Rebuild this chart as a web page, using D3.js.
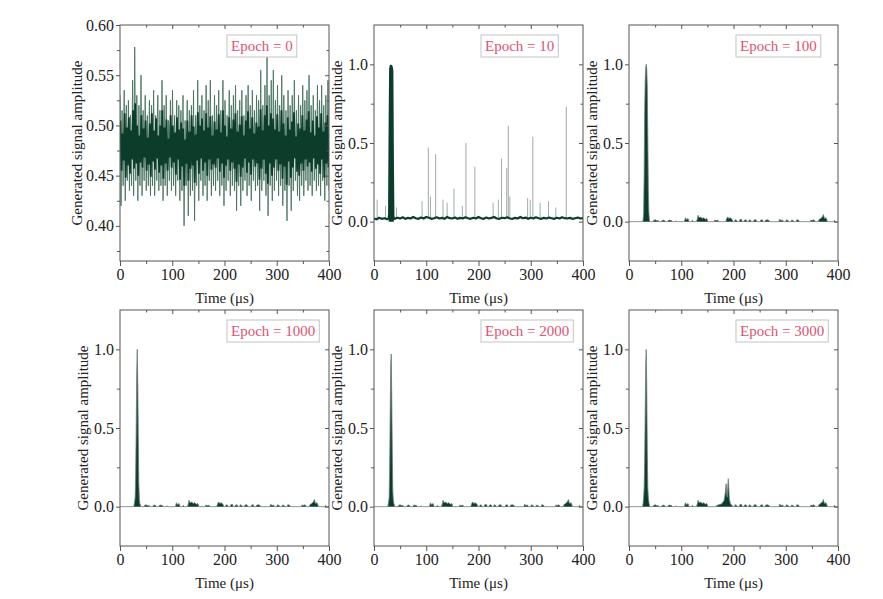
<!DOCTYPE html>
<html><head><meta charset="utf-8">
<script src="https://cdn.jsdelivr.net/npm/d3@7"></script>
<style>body{margin:0;background:#fff}</style>
</head><body>
<svg id="c" width="883" height="599"></svg>
<script>
// ---------------- DATA ----------------
const epochs = [0, 10, 100, 1000, 2000, 3000];
const timeTicks = [0, 100, 200, 300, 400];
const timeMinor = [50, 150, 250, 350];
const ampTicksEpoch0 = [0.40, 0.45, 0.50, 0.55, 0.60];
const ampMinorEpoch0 = [0.375, 0.425, 0.475, 0.525, 0.575];
const ampTicks = [0.0, 0.5, 1.0];
const ampMinor = [-0.25, 0.25, 0.75, 1.25];

// Epoch 0: outer excursions (light spikes) of the noisy trace
const epoch0Upper = [
0.53,0.515,0.535,0.52,0.525, 0.51,0.545,0.578,0.53,0.52,
0.55,0.515,0.53,0.51,0.525, 0.52,0.535,0.51,0.53,0.515,
0.545,0.52,0.53,0.505,0.525, 0.535,0.51,0.525,0.52,0.515,
0.53,0.505,0.525,0.515,0.52, 0.535,0.51,0.545,0.52,0.53,
0.515,0.54,0.525,0.545,0.51, 0.53,0.52,0.535,0.515,0.545,
0.525,0.51,0.535,0.52,0.53, 0.54,0.515,0.525,0.535,0.51,
0.53,0.54,0.52,0.535,0.515, 0.53,0.525,0.555,0.52,0.54,
0.568,0.53,0.545,0.555,0.525, 0.54,0.52,0.55,0.53,0.515,
0.535,0.52,0.53,0.545,0.515, 0.53,0.52,0.54,0.525,0.535,
0.55,0.52,0.53,0.515,0.54, 0.525,0.54,0.52,0.53,0.545];
const epoch0Lower = [
0.42,0.44,0.425,0.445,0.435, 0.44,0.43,0.445,0.425,0.44,
0.43,0.445,0.435,0.44,0.43, 0.44,0.43,0.445,0.435,0.44,
0.425,0.44,0.43,0.445,0.435, 0.44,0.43,0.445,0.425,0.435,
0.40,0.44,0.41,0.43,0.435, 0.405,0.44,0.425,0.445,0.43,
0.44,0.425,0.445,0.43,0.44, 0.435,0.445,0.43,0.44,0.42,
0.435,0.445,0.43,0.44,0.435, 0.415,0.44,0.42,0.435,0.445,
0.43,0.44,0.425,0.445,0.435, 0.44,0.415,0.435,0.445,0.43,
0.41,0.44,0.425,0.435,0.445, 0.43,0.44,0.42,0.435,0.405,
0.44,0.415,0.435,0.445,0.43, 0.425,0.44,0.43,0.445,0.435,
0.44,0.43,0.445,0.435,0.44, 0.43,0.445,0.425,0.44,0.435];
// Epoch 0: dense dark core of the trace
const epoch0CoreUpper = [
0.505,0.492,0.512,0.498,0.508,0.495,0.515,0.522,0.5,0.49,
0.51,0.497,0.505,0.488,0.502,0.512,0.495,0.507,0.49,0.5,
0.515,0.498,0.506,0.487,0.51,0.5,0.493,0.508,0.496,0.503,
0.497,0.486,0.505,0.494,0.51,0.499,0.491,0.513,0.5,0.507,
0.495,0.512,0.498,0.509,0.49,0.504,0.496,0.511,0.493,0.515,
0.5,0.489,0.508,0.497,0.506,0.512,0.494,0.501,0.509,0.49,
0.505,0.514,0.497,0.508,0.492,0.503,0.499,0.516,0.495,0.51,
0.52,0.5,0.512,0.507,0.496,0.511,0.494,0.515,0.502,0.49,
0.508,0.496,0.504,0.513,0.489,0.502,0.497,0.51,0.495,0.506,
0.514,0.493,0.505,0.49,0.509,0.498,0.512,0.494,0.503,0.51];
const epoch0CoreLower = [
0.455,0.465,0.448,0.46,0.452,0.466,0.457,0.462,0.45,0.463,
0.458,0.468,0.455,0.461,0.449,0.464,0.456,0.467,0.453,0.46,
0.447,0.462,0.455,0.468,0.458,0.463,0.451,0.466,0.446,0.459,
0.44,0.462,0.445,0.457,0.46,0.443,0.465,0.452,0.467,0.455,
0.463,0.45,0.466,0.456,0.461,0.458,0.467,0.454,0.462,0.448,
0.46,0.466,0.455,0.463,0.457,0.444,0.461,0.449,0.458,0.467,
0.453,0.463,0.451,0.466,0.459,0.462,0.446,0.457,0.466,0.452,
0.442,0.462,0.45,0.458,0.466,0.455,0.461,0.447,0.459,0.441,
0.464,0.448,0.458,0.467,0.454,0.45,0.462,0.455,0.466,0.459,
0.463,0.454,0.467,0.457,0.461,0.452,0.466,0.448,0.462,0.458];

// Epoch 10: baseline (every 5 us), main pulse and isolated spikes
const epoch10BaseT = d3.range(0, 401, 5);
const epoch10BaseV = [
0.02,0.015,0.025,0.018,0.022,0.016,0.02,0.03,0.018,0.025,
0.02,0.028,0.018,0.024,0.02,0.03,0.022,0.018,0.026,0.02,
0.03,0.025,0.018,0.022,0.028,0.02,0.024,0.018,0.03,0.022,
0.02,0.026,0.018,0.024,0.02,0.028,0.022,0.018,0.025,0.02,
0.03,0.022,0.018,0.026,0.02,0.024,0.03,0.02,0.018,0.025,
0.022,0.028,0.02,0.018,0.024,0.02,0.03,0.022,0.026,0.018,
0.025,0.02,0.028,0.022,0.018,0.024,0.02,0.026,0.022,0.018,
0.025,0.02,0.028,0.022,0.02,0.024,0.018,0.022,0.026,0.02,0.022];
const epoch10PulseT = [28,29,30,31,32,33,34,35,36,37,38];
const epoch10PulseV = [0.02,0.05,0.6,0.97,0.99,0.99,0.98,0.96,0.4,0.04,0.02];
const epoch10SpikeT = [6,22,43,92,104,108,118,132,140,153,169,176,193,228,238,244,254,257,260,294,299,304,318,334,348,368];
const epoch10SpikeV = [0.14,0.10,0.09,0.13,0.47,0.16,0.43,0.14,0.12,0.21,0.10,0.50,0.35,0.12,0.14,0.40,0.34,0.61,0.16,0.15,0.14,0.54,0.12,0.13,0.09,0.73];

// Small residual ripples after the pulse (epochs 100 - 3000)
const residualT = [0,46,47,50,53,56,57, 62,63,66,69,70, 74,75,78,82,83, 88,90,92,
 106,108,110,113,115, 119,121,124, 129,131,132,134,137,140,143,146,149,151,
 163,164,167,170,172, 185,187,189,191,194,197,199,
 202,203,206,208,211,212,215,217,220,221,224,226,229,230,233,235,238,239,243,245,
 251,252,255,257,260,261,264,267,270, 287,288,291,294,296,
 300,301,304,307,310,311,314,316,320,321,324,327,
 347,348,351,354,357, 362,364,367,370,372,374,377,380, 392,393,396,400];
const residualV = [0,0,0.008,0.012,0.006,0.008,0, 0,0.006,0.01,0.005,0, 0,0.007,0.01,0.006,0, 0,0.005,0,
 0,0.025,0.012,0.02,0, 0,0.008,0, 0,0.02,0.04,0.025,0.03,0.02,0.025,0.015,0.02,0,
 0,0.01,0.006,0.01,0, 0,0.02,0.03,0.02,0.025,0.015,0,
 0,0.012,0.008,0,0,0.012,0.015,0,0,0.01,0.012,0,0,0.012,0.008,0,0,0.01,0.012,0,
 0,0.01,0.012,0,0,0.008,0.012,0.01,0, 0,0.015,0.008,0.01,0,
 0,0.012,0.008,0,0,0.01,0.008,0,0,0.012,0.01,0,
 0,0.01,0.008,0.012,0, 0,0.015,0.02,0.03,0.045,0.02,0.025,0, 0,0.008,0,0];

const pulseT = [26,27,28,29,30,31,32,33,34,35,36,37,38,39,40];
const epoch100PulseV  = [0,0.01,0.05,0.3,0.7,0.9,0.98,1.0,0.97,0.85,0.55,0.2,0.06,0.01,0];
const epoch1000PulseV = [0,0.01,0.03,0.06,0.2,0.5,0.85,1.0,0.8,0.45,0.15,0.05,0.02,0.01,0];
const epoch2000PulseV = [0,0.01,0.03,0.06,0.25,0.6,0.9,0.97,0.7,0.35,0.1,0.04,0.02,0.01,0];
const epoch3000PulseV = [0,0.02,0.06,0.12,0.3,0.6,0.9,1.0,0.75,0.35,0.12,0.06,0.03,0.01,0];
const epoch3000EchoT = [165,170,175,178,180,182,184,186,187,188,189,190,191,192,194,196,198,200];
const epoch3000EchoV = [0,0.01,0.015,0.02,0.03,0.04,0.08,0.146,0.09,0.06,0.12,0.178,0.12,0.05,0.02,0.01,0.005,0];

// ---------------- DRAW ----------------
const svg = d3.select("#c");
const FONT = "'Liberation Serif','Times New Roman',serif";
const DARK = "#0c3d2b";
const colLeft = [120, 374, 629];
const rowTop = [25, 310];
const PW = 209, PH = 236;

const zip = (T, V) => T.map((t, i) => [t, V[i]]);

function panel(idx) {
  const left = colLeft[idx % 3], top = rowTop[Math.floor(idx / 3)];
  const isE0 = idx === 0;
  const x = d3.scaleLinear().domain([0, 400]).range([left, left + PW]);
  const y = d3.scaleLinear().domain(isE0 ? [0.365, 0.60] : [-0.25, 1.25]).range([top + PH, top]);
  const g = svg.append("g");
  const cid = "clip" + idx;
  svg.append("clipPath").attr("id", cid).append("rect")
    .attr("x", left).attr("y", top).attr("width", PW).attr("height", PH);
  const dg = g.append("g").attr("clip-path", `url(#${cid})`);

  const line = d3.line().x(d => x(d[0])).y(d => y(d[1]));
  const area = d3.area().x(d => x(d[0])).y0(y(0)).y1(d => y(d[1]));

  if (isE0) {
    const outer = [], core = [];
    epoch0Upper.forEach((u, i) => {
      outer.push([(2 * i) * 400 / 199, u]);
      outer.push([(2 * i + 1) * 400 / 199, epoch0Lower[i]]);
    });
    epoch0CoreUpper.forEach((u, i) => {
      core.push([(2 * i + 0.5) * 400 / 200, u]);
      core.push([(2 * i + 1.5) * 400 / 200, epoch0CoreLower[i]]);
    });
    dg.append("path").datum(outer).attr("d", line).attr("fill", "none")
      .attr("stroke", "#47735f").attr("stroke-width", 0.9);
    dg.append("path").datum(core).attr("d", line).attr("fill", "none")
      .attr("stroke", DARK).attr("stroke-width", 1.8);
  } else if (idx === 1) {
    const base = zip(epoch10BaseT, epoch10BaseV).filter(d => d[0] < 28 || d[0] > 38)
      .concat(zip(epoch10PulseT, epoch10PulseV)).sort((a, b) => a[0] - b[0]);
    zip(epoch10SpikeT, epoch10SpikeV).forEach(s => {
      dg.append("line").attr("x1", x(s[0])).attr("x2", x(s[0]))
        .attr("y1", y(0.02)).attr("y2", y(s[1]))
        .attr("stroke", s[1] > 0.3 ? "#9c9c9c" : "#8fa89c").attr("stroke-width", 0.9);
    });
    dg.append("path").datum(zip(epoch10PulseT, epoch10PulseV)).attr("d", area)
      .attr("fill", DARK);
    dg.append("path").datum(base).attr("d", line).attr("fill", "none")
      .attr("stroke", DARK).attr("stroke-width", 2.2).attr("stroke-linejoin", "round");
  } else {
    const pulseV = {2: epoch100PulseV, 3: epoch1000PulseV, 4: epoch2000PulseV, 5: epoch3000PulseV}[idx];
    let pts = zip(residualT, residualV).concat(zip(pulseT, pulseV));
    if (idx === 5) {
      pts = pts.filter(d => d[0] < 163 || d[0] > 200).concat(zip(epoch3000EchoT, epoch3000EchoV));
    }
    pts.sort((a, b) => a[0] - b[0]);
    dg.append("path").datum(pts).attr("d", area).attr("fill", DARK);
    dg.append("path").datum(pts).attr("d", line).attr("fill", "none")
      .attr("stroke", "#6f7f77").attr("stroke-width", 0.8);
  }

  // frame
  g.append("rect").attr("x", left).attr("y", top).attr("width", PW).attr("height", PH)
    .attr("fill", "none").attr("stroke", "#555").attr("stroke-width", 1);

  const yT = isE0 ? ampTicksEpoch0 : ampTicks;
  const yM = isE0 ? ampMinorEpoch0 : ampMinor;
  const fmt = isE0 ? d3.format(".2f") : d3.format(".1f");
  const inY = v => v > y.domain()[0] && v < y.domain()[1];

  const styleAxis = sel => {
    sel.select(".domain").remove();
    sel.selectAll("line").attr("stroke", "#555");
    sel.selectAll("text").attr("font-family", FONT).attr("font-size", 16).attr("fill", "#222");
  };
  g.append("g").attr("transform", `translate(0,${top + PH})`)
    .call(d3.axisBottom(x).tickValues(timeTicks).tickSize(5).tickPadding(3).tickSizeOuter(0)).call(styleAxis);
  g.append("g").attr("transform", `translate(0,${top + PH})`)
    .call(d3.axisBottom(x).tickValues(timeMinor).tickSize(3).tickFormat("")).call(styleAxis);
  g.append("g").attr("transform", `translate(${left},0)`)
    .call(d3.axisLeft(y).tickValues(yT).tickSize(4).tickPadding(2).tickFormat(fmt)).call(styleAxis);
  g.append("g").attr("transform", `translate(${left},0)`)
    .call(d3.axisLeft(y).tickValues(yM.filter(inY)).tickSize(3).tickFormat("")).call(styleAxis);
  g.append("g").attr("transform", `translate(0,${top})`)
    .call(d3.axisTop(x).tickValues(timeTicks.slice(1, 4)).tickSize(-4).tickFormat("")).call(styleAxis);
  g.append("g").attr("transform", `translate(0,${top})`)
    .call(d3.axisTop(x).tickValues(timeMinor).tickSize(-2.5).tickFormat("")).call(styleAxis);
  g.append("g").attr("transform", `translate(${left + PW},0)`)
    .call(d3.axisRight(y).tickValues(yT.filter(v => v < y.domain()[1])).tickSize(-4).tickFormat("")).call(styleAxis);
  g.append("g").attr("transform", `translate(${left + PW},0)`)
    .call(d3.axisRight(y).tickValues(yM.filter(inY)).tickSize(-2.5).tickFormat("")).call(styleAxis);

  // axis titles
  g.append("text").attr("x", left + PW / 2).attr("y", top + PH + 42)
    .attr("text-anchor", "middle").attr("font-family", FONT).attr("font-size", 15).attr("fill", "#222")
    .text("Time (μs)");
  const lx = left - (isE0 ? 43 : 37), ly = top + PH / 2;
  g.append("text").attr("transform", `translate(${lx},${ly}) rotate(-90)`)
    .attr("text-anchor", "middle").attr("dy", "0.35em").attr("font-family", FONT).attr("font-size", 15).attr("fill", "#222")
    .text("Generated signal amplitude");

  // epoch label
  const lb = g.append("g");
  const bx = left + 107, by = top + 10;
  const rect = lb.append("rect").attr("x", bx).attr("y", by).attr("height", 22)
    .attr("fill", "#fff").attr("stroke", "#c4c4c4").attr("stroke-width", 1);
  const t = lb.append("text").attr("x", bx + 4).attr("y", by + 16)
    .attr("font-family", FONT).attr("font-size", 15).attr("fill", "#e0536f")
    .text(`Epoch = ${epochs[idx]}`);
  rect.attr("width", t.node().getComputedTextLength() + 8);
}

epochs.forEach((e, i) => panel(i));
</script>
</body></html>
